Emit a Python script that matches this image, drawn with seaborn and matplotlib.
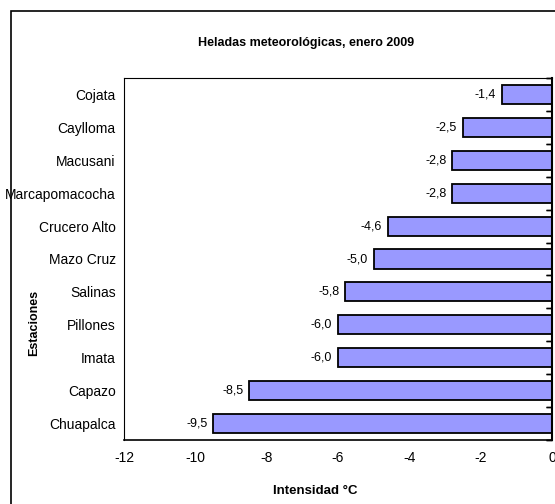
import matplotlib
matplotlib.use("Agg")
import matplotlib.pyplot as plt
import seaborn as sns
import pandas as pd
from matplotlib.patches import Rectangle

estaciones = ["Cojata", "Caylloma", "Macusani", "Marcapomacocha", "Crucero Alto",
              "Mazo Cruz", "Salinas", "Pillones", "Imata", "Capazo", "Chuapalca"]
intensidad = [-1.4, -2.5, -2.8, -2.8, -4.6, -5.0, -5.8, -6.0, -6.0, -8.5, -9.5]
x_ticks = [-12, -10, -8, -6, -4, -2, 0]

sns.set_theme(style="white", rc={"text.color": "black", "xtick.color": "black",
                                 "ytick.color": "black", "axes.labelcolor": "black"})
plt.rcParams['font.family'] = ['Liberation Sans Narrow', 'Liberation Sans', 'DejaVu Sans']

df = pd.DataFrame({"Estacion": estaciones, "Intensidad": intensidad})

fig = plt.figure(figsize=(5.55, 5.04), dpi=100)
ax = fig.add_axes([124/555, 1-440/504, (552-124)/555, (440-78)/504])

sns.barplot(data=df, x="Intensidad", y="Estacion", orient="h", color="#9999FF",
            edgecolor="black", linewidth=1.3, width=0.58, saturation=1, ax=ax)

ax.set_xlim(-12, 0)
ax.set_ylim(len(estaciones)-0.5, -0.5)
ax.set_xticks(x_ticks)
ax.set_xticklabels([str(t) for t in x_ticks], fontsize=10)
ax.tick_params(axis='x', direction='in', length=4, width=1, color='black', pad=8)
ax.tick_params(axis='y', length=0, labelsize=10, pad=6)
ax.set_xlabel("")
ax.set_ylabel("")

for s in ax.spines.values():
    s.set_visible(True)
    s.set_color('black')
    s.set_linewidth(0.8)
ax.spines['bottom'].set_linewidth(1.2)
ax.spines['right'].set_linewidth(1.5)

# category separator ticks on the right-hand (value 0) axis
for i in range(len(estaciones)+1):
    ax.plot([0, 0], [i-0.5, i-0.5], marker=0, markersize=4, color='black',
            clip_on=False, markeredgewidth=1)

for i, v in enumerate(intensidad):
    ax.text(v - 0.16, i, f"{v:.1f}".replace(".", ","), ha='right', va='center',
            fontsize=9, color='black')

fig.text(306/555, 1-43/504, "Heladas meteorológicas, enero 2009", ha='center', va='center',
         fontsize=9, fontweight='bold', color='black')
fig.text(315/555, 1-491/504, "Intensidad °C", ha='center', va='center',
         fontsize=9.5, fontweight='bold', color='black')
fig.text(34/555, 1-323/504, "Estaciones", ha='center', va='center', rotation=90,
         fontsize=9, fontweight='bold', color='black')

fig.patches.append(Rectangle((11/555, -0.1), 1.2, 1-11/504+0.1, transform=fig.transFigure,
                             fill=False, edgecolor='black', linewidth=1.2))

fig.savefig("out.png", dpi=100)
